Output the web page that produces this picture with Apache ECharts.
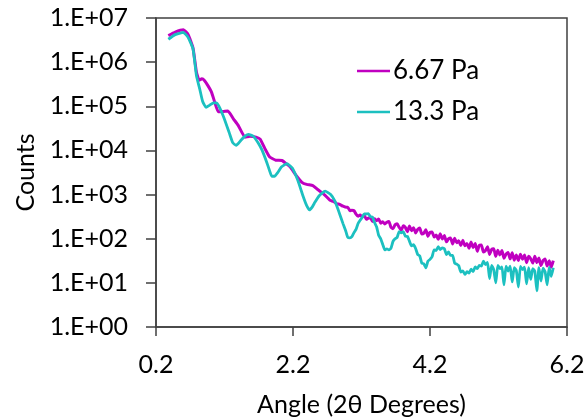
<!DOCTYPE html>
<html>
<head>
<meta charset="utf-8">
<script src="https://cdn.jsdelivr.net/npm/echarts@6/dist/echarts.min.js"></script>
<style>
html,body{margin:0;padding:0;background:#fff;}
#chart{width:586px;height:418px;}
</style>
</head>
<body>
<div id="chart"></div>
<script>
// ---- data ----
const seriesNames = ['6.67 Pa', '13.3 Pa'];
const xTickValues = [0.2, 2.2, 4.2, 6.2];
const yTickLabels = ['1.E+00','1.E+01','1.E+02','1.E+03','1.E+04','1.E+05','1.E+06','1.E+07'];

// shared high-resolution angle grid of the noisy tail (2θ, degrees)
const tailX = [3.00,3.03,3.06,3.09,3.12,3.15,3.18,3.21,3.24,3.27,3.30,3.33,3.36,3.39,3.42,3.45,3.48,3.51,3.54,3.57,
  3.60,3.63,3.66,3.69,3.72,3.75,3.78,3.81,3.84,3.87,3.90,3.93,3.96,3.99,4.02,4.05,4.08,4.11,4.14,4.17,
  4.20,4.23,4.26,4.29,4.32,4.35,4.38,4.41,4.44,4.47,4.50,4.53,4.56,4.59,4.62,4.65,4.68,4.71,4.74,4.77,
  4.80,4.83,4.86,4.89,4.92,4.95,4.98,5.01,5.04,5.07,5.10,5.13,5.16,5.19,5.22,5.25,5.28,5.31,5.34,5.37,
  5.40,5.43,5.46,5.49,5.52,5.55,5.58,5.61,5.64,5.67,5.70,5.73,5.76,5.79,5.82,5.85,5.88,5.91,5.94,5.97,6.00];

// 6.67 Pa
const purpleHeadX = [0.38,0.48,0.60,0.67,0.74,0.79,0.83,0.87,0.91,0.96,1.01,1.06,1.11,1.18,1.25,1.33,1.40,1.50,1.57,1.66,
  1.72,1.79,1.86,1.95,2.04,2.10,2.16,2.24,2.33,2.40,2.49,2.56,2.64,2.70,2.74,2.79,2.84,2.88,2.93,2.98];
const purpleHeadY = [4.0e6,4.8e6,5.4e6,4.2e6,2.1e6,6.0e5,3.9e5,4.2e5,3.8e5,2.9e5,2.1e5,1.2e5,7.5e4,7.6e4,7.8e4,5.2e4,3.7e4,2.0e4,2.1e4,2.0e4,
  1.8e4,1.1e4,7.1e3,6.0e3,5.9e3,5.0e3,4.2e3,2.8e3,1.9e3,1.7e3,1.6e3,1.3e3,1050,860,740,700,620,600,545,515];
const purpleTailY = [516,430,439,434,359,321,346,313,341,275,
  293,301,247,282,255,280,225,243,216,237,
  246,182,168,207,219,181,155,196,180,144,
  195,152,178,135,161,174,128,134,160,113,
  139,142,109,122,97,129,98,119,85,99,
  104,76,102,81,90,70,92,69,78,61,
  84,63,78,52,71,72,50,54,66,44,
  57,59,40,55,43,54,36,45,49,35,
  48,32.5,42.5,32,44.5,34.4,43,28.6,40,35.3,
  28,40,28.8,36.7,24.6,32,34.7,24.2,31.6,22.6,31.9];

// 13.3 Pa
const cyanHeadX = [0.38,0.48,0.60,0.67,0.74,0.79,0.84,0.88,0.93,0.98,1.04,1.08,1.12,1.19,1.27,1.32,1.37,1.44,1.50,1.55,
  1.62,1.69,1.75,1.82,1.86,1.89,1.93,1.98,2.03,2.11,2.19,2.27,2.35,2.40,2.44,2.48,2.51,2.58,2.67,2.75,2.81,2.86,2.93,2.97];
const cyanHeadY = [3.3e6,4.2e6,4.7e6,3.6e6,2.0e6,5.0e5,2.4e5,1.3e5,9.5e4,1.05e5,1.2e5,1.2e5,1.0e5,5.6e4,2.5e4,1.5e4,1.3e4,1.7e4,2.1e4,2.3e4,
  2.1e4,1.5e4,1.0e4,5.2e3,3.4e3,2.6e3,2.6e3,3.2e3,4.2e3,5.0e3,4.0e3,2.1e3,890,560,450,520,630,930,1200,1000,720,450,220,150];
const cyanTailY = [107,104,111,137,163,221,262,301,367,363,
  372,315,310,233,187,120,100,74,56,59,
  56,61,87,100,107,144,136,145,114,113,
  88,69,73,60,44,41,28,27,22,31,
  34,39,56,54,66,57,62,59,43.5,50,
  42,42,28,26.5,24.4,17.6,18.7,15.5,17.9,16.6,
  20.5,18,23,21,25,24,31,26,29,12.5,
  25,20,10,25,21,23,9,24,18.5,24,
  10.5,22,19,8,23.5,20,22.7,9.5,22,12,
  21,18.4,6.6,22,11,21.6,18,9,22.4,14,22];

const zip = (xs, ys) => xs.map((x, i) => [x, ys[i]]);
const purpleData = zip(purpleHeadX, purpleHeadY).concat(zip(tailX, purpleTailY));
const cyanData = zip(cyanHeadX, cyanHeadY).concat(zip(tailX, cyanTailY));

const font = 'Lato, "Liberation Sans", sans-serif';
const axisColor = '#404040';

const chart = echarts.init(document.getElementById('chart'), null, {renderer: 'canvas'});
chart.setOption({
  animation: false,
  backgroundColor: '#ffffff',
  grid: {
    left: 156, right: 19, top: 18, bottom: 91,
    containLabel: false,
    outerBoundsMode: 'none',
    show: true, borderColor: axisColor, borderWidth: 1.5, backgroundColor: 'transparent'
  },
  legend: {
    orient: 'vertical',
    left: 357, top: 56,
    padding: 0,
    icon: 'rect',
    itemWidth: 33, itemHeight: 2.5,
    itemGap: 11,
    textStyle: {fontFamily: font, fontSize: 26, color: '#000', lineHeight: 30, padding: [0,0,0,-2]},
    data: seriesNames
  },
  xAxis: {
    type: 'value',
    min: 0.2, max: 6.2,
    name: 'Angle (2θ Degrees)',
    nameLocation: 'middle',
    nameGap: 65,
    nameTextStyle: {fontFamily: font, fontSize: 25, color: '#000'},
    axisLine: {show: true, onZero: false, lineStyle: {color: axisColor, width: 1.5}},
    axisTick: {show: true, inside: false, length: 9, customValues: xTickValues, lineStyle: {color: axisColor, width: 1.5}},
    axisLabel: {customValues: xTickValues, margin: 25, fontFamily: font, fontSize: 25, color: '#000',
      formatter: v => v.toFixed(1)},
    splitLine: {show: false}
  },
  yAxis: {
    type: 'log',
    logBase: 10,
    min: 1, max: 1e7,
    name: 'Counts',
    nameLocation: 'middle',
    nameGap: 113,
    nameRotate: 90,
    nameTextStyle: {fontFamily: font, fontSize: 25, color: '#000'},
    axisLine: {show: true, lineStyle: {color: axisColor, width: 1.5}},
    axisTick: {show: true, inside: false, length: 10, lineStyle: {color: axisColor, width: 1.5}},
    minorTick: {show: false},
    axisLabel: {margin: 28, fontFamily: font, fontSize: 25, color: '#000',
      formatter: v => yTickLabels[Math.round(Math.log10(v))]},
    splitLine: {show: false}
  },
  series: [
    {
      name: seriesNames[0], type: 'line', data: purpleData,
      showSymbol: false, smooth: 0.15,
      lineStyle: {color: '#C000C0', width: 3}, itemStyle: {color: '#C000C0'}, z: 2
    },
    {
      name: seriesNames[1], type: 'line', data: cyanData,
      showSymbol: false, smooth: 0.15,
      lineStyle: {color: '#1CC0C0', width: 2.8}, itemStyle: {color: '#1CC0C0'}, z: 3
    }
  ]
});
</script>
</body>
</html>
